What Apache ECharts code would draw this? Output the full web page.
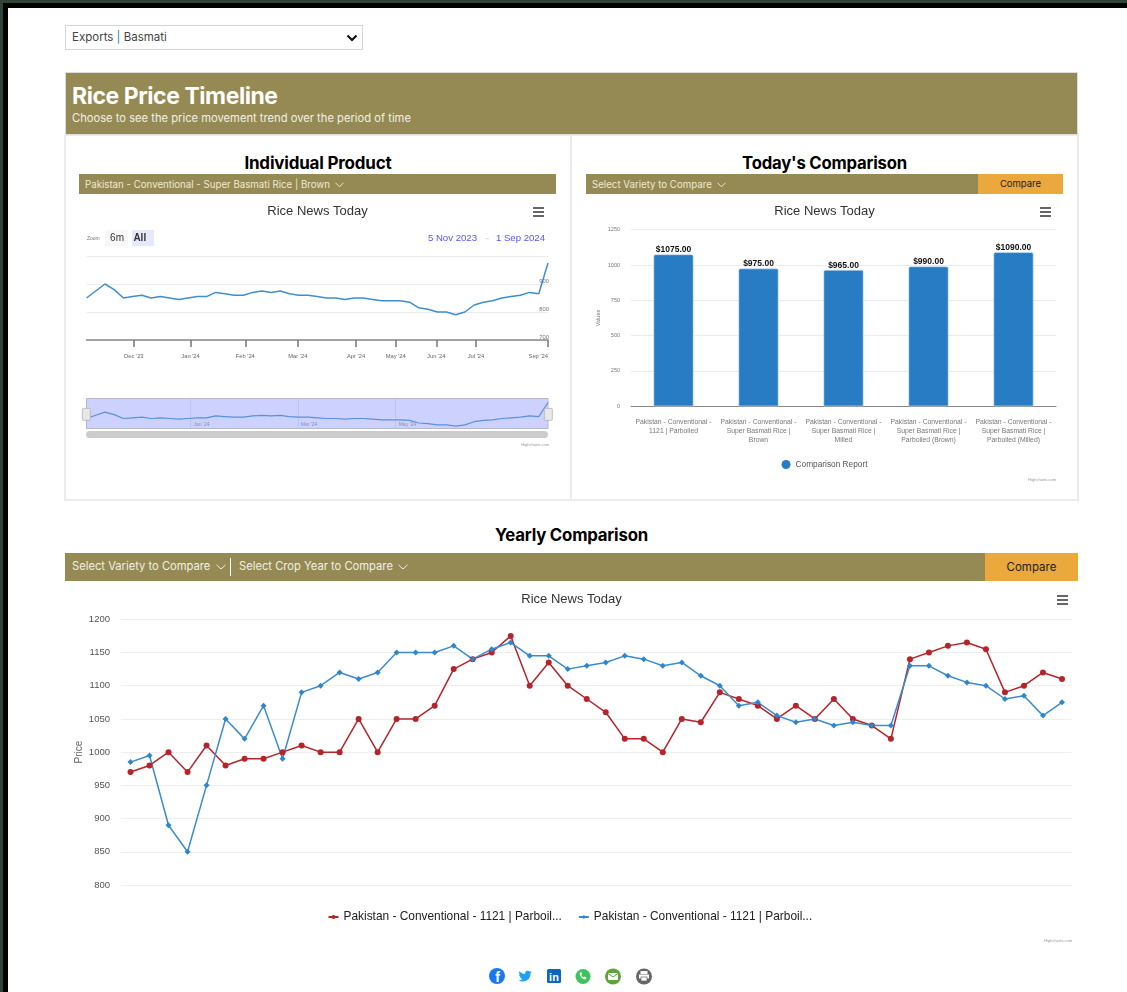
<!DOCTYPE html>
<html><head><meta charset="utf-8">
<script src="https://cdn.jsdelivr.net/npm/echarts@6/dist/echarts.min.js"></script>
<style>
html,body{margin:0;padding:0;width:1127px;height:992px;overflow:hidden;background:#fff;font-family:Inter,"Liberation Sans",sans-serif}
#frame{position:absolute;left:0;top:0;width:1127px;height:992px;box-sizing:border-box;border-top:8px solid #000;border-left:8px solid #000;}
#frameTop{position:absolute;left:0;top:0;width:1127px;height:3px;background:#2f4439}
#frameLeft{position:absolute;left:0;top:0;width:3px;height:992px;background:#2f4439}
.a{position:absolute;box-sizing:border-box;white-space:nowrap}
.gold{background:#958a53}
.h{color:#000;font-weight:700;text-align:center;letter-spacing:-.2px}
.btn{background:#eba83d;color:#222;text-align:center}
.chart{position:absolute}
</style></head><body>
<div id="frame"></div><div id="frameTop"></div><div id="frameLeft"></div>

<div class="a" style="left:65px;top:25px;width:298px;height:25px;border:1px solid #d5d5d5;font-size:11.5px;line-height:23px;padding-left:6px;color:#444">Exports <span style="color:#2a7bc4">|</span> Basmati
  <svg style="position:absolute;right:4px;top:7px" width="12" height="10" viewBox="0 0 12 10"><path d="M1.5 2.5 L6 7 L10.5 2.5" fill="none" stroke="#111" stroke-width="2.2"/></svg></div>

<div class="a" style="left:64px;top:134px;width:508px;height:367px;border:2px solid #ececec"></div>
<div class="a" style="left:570px;top:134px;width:509px;height:367px;border:2px solid #ececec"></div>
<div class="a gold" style="left:65px;top:72px;width:1013px;height:63px;border:1px solid #ddd"></div>
<div class="a" style="left:72px;top:81px;color:#fff;font-weight:700;font-size:23px;letter-spacing:-.45px;line-height:30px">Rice Price Timeline</div>
<div class="a" style="left:72px;top:111px;color:#f2f0e4;font-size:11.2px;line-height:15px">Choose to see the price movement trend over the period of time</div>

<div class="a h" style="left:65px;top:152px;width:506px;line-height:22px;font-size:17px">Individual Product</div>
<div class="a h" style="left:571px;top:152px;width:507px;line-height:22px;font-size:16.7px">Today's Comparison</div>

<div class="a gold" style="left:79px;top:174px;width:477px;height:20px;color:#eee9d2;font-size:9.7px;line-height:21px;padding-left:6px">Pakistan - Conventional - Super Basmati Rice | Brown
  <svg style="margin-left:2px" width="9" height="6" viewBox="0 0 9 6"><path d="M.5 .8 L4.500 4.800 L8.500 .8" fill="none" stroke="#eee9d2"/></svg></div>
<div class="a gold" style="left:586px;top:174px;width:392px;height:20px;color:#eee9d2;font-size:9.7px;line-height:21px;padding-left:6px">Select Variety to Compare
  <svg style="margin-left:2px" width="9" height="6" viewBox="0 0 9 6"><path d="M.5 .8 L4.500 4.800 L8.500 .8" fill="none" stroke="#eee9d2"/></svg></div>
<div class="a btn" style="left:978px;top:174px;width:85px;height:20px;font-size:9.5px;line-height:19px">Compare</div>

<div id="c1" class="chart" style="left:79px;top:197px;width:477px;height:260px"></div>
<div id="c2" class="chart" style="left:586px;top:197px;width:477px;height:293px"></div>

<div class="a h" style="left:65px;top:524px;width:1013px;line-height:22px;font-size:16.8px">Yearly Comparison</div>
<div class="a gold" style="left:65px;top:553px;width:920px;height:28px;color:#f2f0e4;font-size:11.2px;line-height:26px;padding-left:7px">Select Variety to Compare
  <svg style="position:absolute;left:151px;top:11px" width="10" height="6" viewBox="0 0 10 6"><path d="M.5 .8 L5 5 L9.500 .8" fill="none" stroke="#f2f0e4"/></svg>
  <span style="position:absolute;left:165px;top:5px;width:1px;height:18px;background:#fff"></span>
  <span style="position:absolute;left:174px;top:0">Select Crop Year to Compare</span>
  <svg style="position:absolute;left:333px;top:11px" width="10" height="6" viewBox="0 0 10 6"><path d="M.5 .8 L5 5 L9.500 .8" fill="none" stroke="#f2f0e4"/></svg></div>
<div class="a btn" style="left:985px;top:553px;width:93px;height:28px;font-size:11.5px;line-height:29px">Compare</div>

<div id="c3" class="chart" style="left:65px;top:585px;width:1013px;height:365px"></div>

<svg class="a" style="left:485px;top:964px" width="172" height="24" viewBox="0 0 172 24">
  <circle cx="12" cy="12" r="8" fill="#1877f2"/><text x="12.5" y="18" text-anchor="middle" font-family="Liberation Sans" font-weight="700" font-size="14" fill="#fff">f</text>
  <path transform="translate(33,5) scale(.6)" fill="#1da1f2" d="M23 5c-.8.4-1.700.6-2.600.7.9-.6 1.600-1.400 2-2.500-.9.5-1.900.9-2.900 1.100C18.600 3.400 17.400 3 16.200 3c-2.500 0-4.500 2-4.500 4.500 0 .4 0 .7.1 1C8 8.300 4.700 6.500 2.500 3.800c-.4.7-.6 1.500-.6 2.300 0 1.600.8 3 2 3.800-.7 0-1.400-.2-2-.6v.1c0 2.200 1.600 4 3.600 4.400-.7.2-1.400.2-2 .1.6 1.800 2.200 3.100 4.200 3.100-1.500 1.200-3.500 1.900-5.600 1.900H1c2 1.300 4.400 2 7 2 8.300 0 12.900-6.900 12.900-12.900v-.6c.8-.6 1.600-1.400 2.100-2.300z"/>
  <rect x="62" y="5" width="14" height="14" rx="1.500" fill="#0a66c2"/><text x="69" y="17" text-anchor="middle" font-family="Liberation Sans" font-weight="700" font-size="11" fill="#fff">in</text>
  <circle cx="98" cy="12.500" r="7.500" fill="#3fc35f"/><path d="M95 8.500c-1 1.500 .5 4 1.500 5s3 2.500 4.500 1.500l.5-1.500-2-1-.8.8c-1-.4-2-1.500-2.400-2.400l.8-.8-1-2z" fill="#fff"/>
  <circle cx="128" cy="12.500" r="8" fill="#5fa33c"/><rect x="123" y="9" width="10" height="7" rx="1" fill="#fff"/><path d="M123 9.500 L128 13 L133 9.500" fill="none" stroke="#5fa33c"/>
  <circle cx="159" cy="12.500" r="8" fill="#666"/><rect x="155.500" y="7" width="7" height="3" fill="#fff"/><rect x="154" y="10.500" width="10" height="4" fill="#fff"/><rect x="156" y="13" width="6" height="4" fill="#fff" stroke="#666" stroke-width=".7"/>
</svg>

<script>
/* --- Individual product timeline (ordinal x position = point number) --- */
var timelinePrices = [850,875,900,880,850,855,860,850,855,850,845,850,855,855,870,865,860,860,870,875,870,875,865,860,860,855,850,850,845,850,850,845,840,840,840,835,815,810,800,800,790,800,825,835,840,850,855,860,870,865,975];
var timelineTickPos = [5.13,11.27,17.2,22.9,29.2,33.5,37.9,42.2,50];
var timelineTickText = ["Dec '23","Jan '24","Feb '24","Mar '24","Apr '24","May '24","Jun '24","Jul '24","Sep '24"];
var navigatorTickPos = [11.27,22.9,33.5];
var navigatorTickText = ["Jan '24","Mar '24","May '24"];
var timelineYTicks = [700,800,900];

/* --- Today's comparison --- */
var compareCategories = ['Pakistan - Conventional -\n1121 | Parboiled','Pakistan - Conventional -\nSuper Basmati Rice |\nBrown','Pakistan - Conventional -\nSuper Basmati Rice |\nMilled','Pakistan - Conventional -\nSuper Basmati Rice |\nParboiled (Brown)','Pakistan - Conventional -\nSuper Basmati Rice |\nParboiled (Milled)'];
var compareValues = [1075,975,965,990,1090];

/* --- Yearly comparison --- */
var yearlyRed = [970,980,1000,970,1010,980,990,990,1000,1010,1000,1000,1050,1000,1050,1050,1070,1125,1140,1150,1175,1100,1135,1100,1080,1060,1020,1020,1000,1050,1045,1090,1080,1070,1050,1070,1050,1080,1050,1040,1020,1140,1150,1160,1165,1155,1090,1100,1120,1110];
var yearlyBlue = [985,995,890,850,950,1050,1020,1070,990,1090,1100,1120,1110,1120,1150,1150,1150,1160,1140,1155,1165,1145,1145,1125,1130,1135,1145,1140,1130,1135,1115,1100,1070,1075,1055,1045,1050,1040,1045,1040,1040,1130,1130,1115,1105,1100,1080,1085,1055,1075];
var yearlyIndex = yearlyRed.map(function(v,i){return String(i+1);});
var redName = 'Pakistan - Conventional - 1121 | Parboil...';
var blueName = 'Pakistan - Conventional - 1121 | Parboil... ';

var timelinePairs = timelinePrices.map(function(v,i){return [i,v];});
var FF = '"Liberation Sans",Arial,sans-serif';
function menu(right,top){
  return [0,4,8].map(function(d){return {type:'rect',right:right,top:top+d,shape:{width:11,height:2},style:{fill:'#666'},silent:true};});
}
function credit(right,bottom){
  return {type:'text',right:right,bottom:bottom,style:{text:'Highcharts.com',font:'4px '+FF,fill:'#999'},silent:true};
}
function btn(left,w,label,bold,bg){
  return [
    {type:'rect',left:left,top:33,shape:{width:w,height:16,r:1},style:{fill:bg},silent:true},
    {type:'text',left:left+w/2-(label.length*3.2),top:36,style:{text:label,font:(bold?'bold ':'')+'10px '+FF,fill:'#333'},silent:true}
  ];
}
var titleStyle = {fontFamily:FF,fontSize:13,fontWeight:'normal',color:'#333'};

/* chart 1 */
var c1 = echarts.init(document.getElementById('c1'));
c1.setOption({
  animation:false,
  title:{text:'Rice News Today',left:'center',top:2.500,textStyle:titleStyle},
  grid:[
    {left:7.500,right:8,top:59,height:84,outerBoundsMode:'none'},
    {left:7.500,right:8,top:201.500,height:30,outerBoundsMode:'none',show:true,backgroundColor:'#ccd2fd',borderColor:'#b5b8c8',borderWidth:1}
  ],
  xAxis:[
    {type:'value',gridIndex:0,min:0,max:50,
     axisLine:{onZero:false,lineStyle:{color:'#888',width:1.500}},
     axisTick:{show:true,customValues:timelineTickPos,length:7,lineStyle:{color:'#777',width:1.500}},
     axisLabel:{customValues:timelineTickPos,formatter:function(v){return timelineTickText[timelineTickPos.indexOf(v)]||'';},fontSize:5.800,color:'#666',margin:13,fontFamily:FF,alignMaxLabel:'right'},
     splitLine:{show:false}},
    {type:'value',gridIndex:1,min:0,max:50,
     axisLine:{show:false},axisTick:{show:false,customValues:navigatorTickPos},
     axisLabel:{inside:true,customValues:navigatorTickPos,formatter:function(v){return navigatorTickText[navigatorTickPos.indexOf(v)]||'';},fontSize:5,color:'#8a8fb5',fontFamily:FF,align:'left',margin:1,padding:[0,0,0,3]},
     splitLine:{show:true,customValues:navigatorTickPos,lineStyle:{color:'#bcc3f2',width:1}}}
  ],
  yAxis:[
    {type:'value',gridIndex:0,position:'right',min:700,max:1000,interval:100,
     axisLine:{show:false},axisTick:{show:false},
     axisLabel:{inside:true,fontSize:5.800,color:'#777',fontFamily:FF,margin:-1,verticalAlign:'bottom',
       formatter:function(v){return timelineYTicks.indexOf(v)>=0?String(v):'';}},
     splitLine:{lineStyle:{color:'#ececec',width:1}}},
    {type:'value',gridIndex:1,min:772,max:1006,axisLine:{show:false},axisTick:{show:false},axisLabel:{show:false},splitLine:{show:false}}
  ],
  series:[
    {type:'line',xAxisIndex:0,yAxisIndex:0,data:timelinePairs,showSymbol:false,lineStyle:{color:'#3d8fd0',width:1.500},z:3},
    {type:'line',xAxisIndex:1,yAxisIndex:1,data:timelinePairs,showSymbol:false,lineStyle:{color:'#5b90dc',width:1.200},z:3}
  ],
  graphic:[
    {type:'text',left:8,top:39,style:{text:'Zoom',font:'5px '+FF,fill:'#777'},silent:true}
  ].concat(btn(26,23,'6m',false,'#f7f7f7'),btn(53,22,'All',true,'#e6e9fb'),[
    {type:'text',right:79,top:36,style:{text:'5 Nov 2023',font:'9.6px '+FF,fill:'#5555f5'},silent:true},
    {type:'text',right:66,top:38,style:{text:'→',font:'6px '+FF,fill:'#999'},silent:true},
    {type:'text',right:11,top:36,style:{text:'1 Sep 2024',font:'9.6px '+FF,fill:'#5555f5'},silent:true},
    {type:'rect',left:3,top:211,shape:{width:8,height:12,r:1},style:{fill:'#e8e8e8',stroke:'#aaa',lineWidth:.7},silent:true,z:6},
    {type:'rect',left:465,top:211,shape:{width:8,height:12,r:1},style:{fill:'#e8e8e8',stroke:'#aaa',lineWidth:.7},silent:true,z:6},
    {type:'rect',left:7,top:234,shape:{width:462,height:7,r:3.500},style:{fill:'#cccccc'},silent:true},
    credit(7,10)
  ],menu(12,10))
});

/* chart 2 */
var c2 = echarts.init(document.getElementById('c2'));
c2.setOption({
  animation:false,
  title:{text:'Rice News Today',left:'center',top:2.500,textStyle:titleStyle},
  legend:{data:['Comparison Report'],bottom:16,left:'center',itemWidth:9,itemHeight:9,icon:'circle',itemGap:5,
    itemStyle:{borderWidth:0},textStyle:{fontFamily:FF,fontSize:8.300,color:'#555'}},
  grid:{left:45,right:7,top:32.700,height:176.600,outerBoundsMode:'none'},
  xAxis:{type:'category',data:compareCategories,axisLine:{lineStyle:{color:'#888',width:1}},axisTick:{show:false},
    axisLabel:{interval:0,fontFamily:FF,fontSize:6.800,lineHeight:9,color:'#777',margin:11}},
  yAxis:{type:'value',min:0,max:1250,interval:250,name:'Values',nameLocation:'middle',nameGap:30,nameMoveOverlap:false,nameTextStyle:{fontFamily:FF,fontSize:5.500,color:'#777'},
    axisLine:{show:false},axisTick:{show:false},axisLabel:{fontFamily:FF,fontSize:5.500,color:'#777',margin:11,formatter:function(v){return String(v);}},splitLine:{lineStyle:{color:'#ececec'}}},
  series:[{type:'bar',name:'Comparison Report',data:compareValues,barWidth:'47%',
    itemStyle:{color:'#277cc4',borderColor:'#cfe3f4',borderWidth:.6,borderRadius:[1.500,1.500,0,0]},
    label:{show:true,position:'top',distance:0,formatter:function(p){return '$'+p.value.toFixed(2);},fontFamily:FF,fontSize:8.500,fontWeight:'bold',color:'#111'}}],
  graphic:menu(12,10).concat([credit(7,8)])
});

/* chart 3 */
var c3 = echarts.init(document.getElementById('c3'));
c3.setOption({
  animation:false,
  title:{text:'Rice News Today',left:'center',top:2.500,textStyle:titleStyle},
  legend:{data:[redName,blueName],top:321,left:'center',itemWidth:10,itemHeight:5,itemGap:16,textStyle:{fontFamily:FF,fontSize:11.900,color:'#222'}},
  grid:{left:56,right:6.500,top:34.300,height:265.700,outerBoundsMode:'none'},
  xAxis:{type:'category',data:yearlyIndex,axisLine:{show:false},axisTick:{show:false},axisLabel:{show:false}},
  yAxis:{type:'value',min:800,max:1200,interval:50,name:'Price',nameLocation:'middle',nameGap:37,nameMoveOverlap:false,nameTextStyle:{fontFamily:FF,fontSize:10,color:'#666'},
    axisLine:{show:false},axisTick:{show:false},axisLabel:{fontFamily:FF,fontSize:9.500,color:'#555',margin:11,formatter:function(v){return String(v);}},splitLine:{lineStyle:{color:'#eeeeee'}}},
  series:[
    {type:'line',name:redName,data:yearlyRed,symbol:'circle',symbolSize:6,lineStyle:{color:'#b5242a',width:1.500},itemStyle:{color:'#b5242a'}},
    {type:'line',name:blueName,data:yearlyBlue,symbol:'diamond',symbolSize:6,lineStyle:{color:'#3a8ccf',width:1.500},itemStyle:{color:'#2f86cc'}}
  ],
  graphic:menu(10,10).concat([credit(6,7)])
});
</script>
</body></html>
